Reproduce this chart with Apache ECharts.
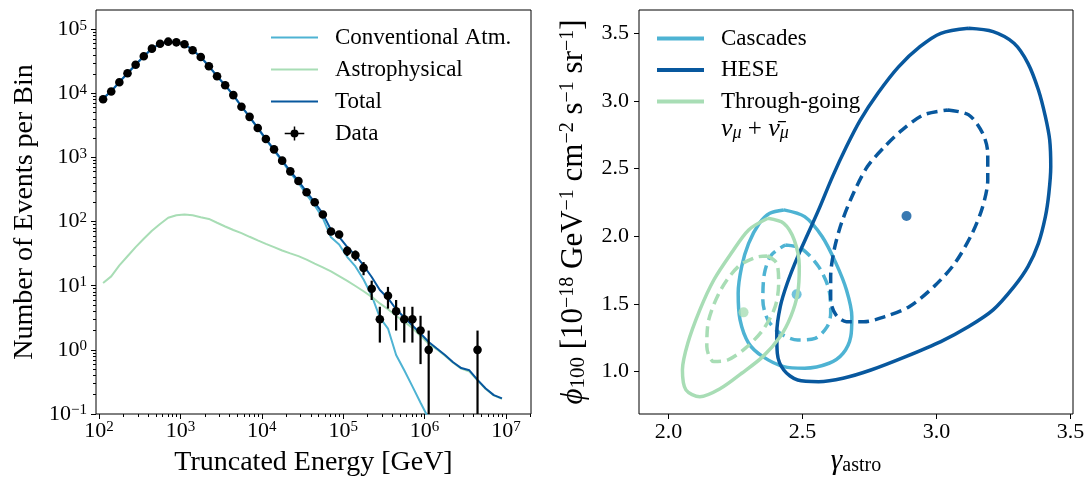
<!DOCTYPE html>
<html><head><meta charset="utf-8">
<script src="https://cdn.jsdelivr.net/npm/echarts@6/dist/echarts.min.js"></script>
<style>html,body{margin:0;padding:0;background:#fff}#c{width:1087px;height:477px}</style>
</head><body><div id="c"></div>
<script>
// ---------------- Left panel data ----------------
const logEnergyBins = [2.05,2.15,2.25,2.35,2.45,2.55,2.65,2.75,2.85,2.95,3.05,3.15,3.25,3.35,3.45,3.55,3.65,3.75,3.85,3.95,
  4.05,4.15,4.25,4.35,4.45,4.55,4.65,4.75,4.85,4.95,5.05,5.15,5.25,5.35,5.45,5.55,5.65,5.75,5.85,5.95,
  6.05,6.15,6.25,6.35,6.45,6.55,6.65,6.75,6.85,6.95];
const totalModel = [8300,10800,15000,20600,28000,38000,49500,59500,64000,63000,58500,47500,37000,26500,18600,13400,9400,6300,4300,2900,
  1950,1330,900,610,430,290,200,132,74,58,40,30,20.7,13.7,8.6,6.4,4.3,3.2,2.4,1.8,
  1.33,1.05,0.83,0.64,0.52,0.48,0.34,0.25,0.197,0.175];
const convModel = [8290,10790,14980,20570,27960,37950,49430,59410,63890,62870,58370,47370,36880,26390,18500,13320,9330,6230,4240,2850,
  1905,1290,865,578,401,264,178,113,57,44,28,20,12.5,7,3.2,2.15,0.83,0.48,0.27,0.15,
  0.085,null,null,null,null,null,null,null,null,null];
const astroModel = [11,14,20.8,28.8,40,54,72,92,115,126,129,126,117,110,96,84,74,66,58,51,
  45,40,35.5,32,29,25.6,22.2,19.3,16.7,14.1,11.9,9.9,8.2,6.7,5.3,4.3,3.4,2.75,2.2,1.65,
  1.25,1.02,0.81,0.63,0.51,0.46,0.335,0.245,0.195,0.172];
const dataLogEnergy = [2.05,2.15,2.25,2.35,2.45,2.55,2.65,2.75,2.85,2.95,3.05,3.15,3.25,3.35,3.45,3.55,3.65,3.75,3.85,3.95,
  4.05,4.15,4.25,4.35,4.45,4.55,4.65,4.75,4.85,4.95,5.05,5.15,5.25,5.35,5.45,5.55,5.65,5.75,5.85,5.95,6.05,6.65];
const dataCounts = [8100,10700,14900,20600,28000,37900,49800,59500,64000,62500,58200,47000,37000,26500,18500,13400,9400,6200,4300,2880,
  1940,1340,893,608,431,287,200,129,70,63,35,30,19,9,3,7,4,3,3,2,1,1];
const dataErrors = [90,103,122,144,167,195,223,244,253,250,241,217,192,163,136,116,97,79,66,54,
  44,37,30,25,21,17,14,11,8.4,7.9,5.9,5.5,4.4,3,1.7,2.6,2,1.7,1.7,1.4,1,1];
const energyTicks = [1e2,1e3,1e4,1e5,1e6,1e7];
const countTicks = [1e-1,1e0,1e1,1e2,1e3,1e4,1e5];

// ---------------- Right panel data ([gamma, phi]) ----------------
const cascadesOuter = [[2.43,2.195],[2.508,2.145],[2.573,1.998],[2.625,1.80],[2.664,1.603],[2.684,1.406],[2.68,1.259],[2.651,1.135],
  [2.599,1.062],[2.508,1.025],[2.43,1.037],[2.352,1.111],[2.299,1.21],[2.267,1.382],[2.26,1.579],[2.273,1.776],[2.299,1.948],
  [2.339,2.096],[2.378,2.17],[2.43,2.195]];
const cascadesInner = [[2.436,1.936],[2.495,1.911],[2.56,1.776],[2.599,1.603],[2.605,1.431],[2.592,1.333],[2.547,1.246],[2.482,1.234],
  [2.417,1.283],[2.371,1.382],[2.352,1.53],[2.358,1.727],[2.384,1.862],[2.436,1.936]];
const heseOuter = [[3.12,3.537],[3.211,3.512],[3.289,3.426],[3.341,3.278],[3.38,3.081],[3.406,2.884],[3.422,2.712],[3.426,2.515],
  [3.419,2.318],[3.406,2.145],[3.38,1.948],[3.341,1.776],[3.289,1.628],[3.211,1.456],[3.12,1.333],[3.016,1.222],[2.885,1.111],
  [2.755,1.012],[2.651,0.951],[2.56,0.926],[2.482,0.938],[2.43,1.012],[2.406,1.135],[2.404,1.283],[2.417,1.48],[2.443,1.653],
  [2.482,1.85],[2.521,2.022],[2.56,2.195],[2.612,2.441],[2.664,2.663],[2.716,2.86],[2.781,3.057],[2.859,3.254],[2.938,3.401],
  [3.016,3.5],[3.12,3.537]];
const heseInner = [[3.042,2.933],[3.12,2.897],[3.172,2.761],[3.191,2.613],[3.191,2.416],[3.172,2.219],[3.133,2.022],[3.068,1.80],
  [2.99,1.628],[2.898,1.48],[2.807,1.406],[2.729,1.369],[2.664,1.369],[2.625,1.419],[2.605,1.53],[2.605,1.702],[2.618,1.899],
  [2.645,2.096],[2.69,2.318],[2.742,2.515],[2.807,2.663],[2.872,2.786],[2.951,2.897],[3.042,2.933]];
const throughOuter = [[2.371,2.133],[2.43,2.096],[2.469,1.973],[2.488,1.776],[2.482,1.579],[2.456,1.406],[2.417,1.259],[2.352,1.111],
  [2.273,0.988],[2.195,0.877],[2.117,0.815],[2.065,0.865],[2.052,1.012],[2.072,1.209],[2.117,1.456],[2.169,1.677],[2.234,1.874],
  [2.299,2.047],[2.371,2.133]];
const throughInner = [[2.368,1.855],[2.404,1.80],[2.411,1.653],[2.398,1.48],[2.352,1.308],[2.286,1.172],[2.221,1.086],[2.169,1.074],
  [2.143,1.185],[2.15,1.382],[2.195,1.604],[2.26,1.776],[2.326,1.845],[2.368,1.855]];
const bestFits = {cascades:[2.478,1.571], hese:[2.888,2.15], through:[2.28,1.438]};
const gammaTicks = [2.0,2.5,3.0,3.5];
const phiTicks = [1.0,1.5,2.0,2.5,3.0,3.5];

// ---------------- Style ----------------
const FONT = "'Liberation Serif','DejaVu Serif',serif";
const C_CONV = '#4eb3d3', C_ASTRO = '#a8ddb5', C_TOTAL = '#08589e';
const titleRich = {
  sup:{fontSize:20, fontFamily:FONT, color:'#000', verticalAlign:'top', lineHeight:6},
  sub:{fontSize:21, fontFamily:FONT, color:'#000', verticalAlign:'bottom', lineHeight:8},
  it:{fontSize:31, fontFamily:FONT, fontStyle:'italic', color:'#000'}
};
function minorLog(lo, hi){
  const out=[];
  for(let e=-2;e<=8;e++) for(let m=2;m<=9;m++){const v=m*Math.pow(10,e); if(v>lo && v<hi) out.push(v);}
  return out;
}
const X_MIN = Math.pow(10,1.963), X_MAX = Math.pow(10,7.307);
const Y_MIN = 0.1, Y_MAX = Math.pow(10,5.30);
function logLabel(v){
  const e = Math.round(Math.log10(v));
  return '10{sup|' + (e<0 ? '\u2212'+(-e) : e) + '}';
}
const tickLabel = {fontSize:22, fontFamily:FONT, color:'#000', rich:{sup:{fontSize:15,fontFamily:FONT,color:'#000',verticalAlign:'top',lineHeight:6}}};
const thinLine = 'path://M0,0H47V2H0Z';
const thickLine = 'path://M0,0H47V4H0Z';
const dataIcon = 'path://M0,6.7h21v1.6h-21z M9.7,0h1.6v15h-1.6z M6.2,7.5a4.3,4.3 0 1,1 8.6,0a4.3,4.3 0 1,1 -8.6,0z';

function renderErr(params, api){
  const x = api.value(0), y = api.value(1), e = api.value(2);
  const c = api.coord([x,y]);
  const hi = api.coord([x, y+e]);
  const lo = api.coord([x, Math.max(y-e, 1e-6)]);
  const cs = params.coordSys;
  const loY = Math.min(lo[1], cs.y+cs.height);
  return {type:'group', children:[
    {type:'line', shape:{x1:c[0],y1:hi[1],x2:c[0],y2:loY}, style:{stroke:'#000', lineWidth:2.2}},
    {type:'circle', shape:{cx:c[0],cy:c[1],r:4.3}, style:{fill:'#000'}}
  ]};
}
const pair = (arr)=>logEnergyBins.map((l,i)=>[Math.pow(10,l), arr[i]]);

const option = {
  animation:false,
  textStyle:{fontFamily:FONT, color:'#000'},
  grid:[
    {left:96, top:10, width:435, height:404, show:true, borderColor:'#000', borderWidth:1, backgroundColor:'transparent',
     outerBoundsMode:'none', containLabel:false},
    {left:639, top:10, width:434, height:404, show:true, borderColor:'#000', borderWidth:1, backgroundColor:'transparent',
     outerBoundsMode:'none', containLabel:false}
  ],
  xAxis:[
    {gridIndex:0, type:'log', min:X_MIN, max:X_MAX, position:'bottom',
     axisLine:{show:false}, splitLine:{show:false},
     axisTick:{show:true, length:5, lineStyle:{color:'#000'}, customValues:energyTicks},
     axisLabel:{show:true, margin:6, customValues:energyTicks, formatter:logLabel, ...tickLabel},
     name:'Truncated Energy [GeV]', nameLocation:'middle', nameGap:35, nameMoveOverlap:false,
     nameTextStyle:{fontSize:28, fontFamily:FONT, color:'#000'}},
    {gridIndex:0, type:'log', min:X_MIN, max:X_MAX, position:'bottom',
     axisLine:{show:false}, splitLine:{show:false}, axisLabel:{show:false},
     axisTick:{show:true, length:3, lineStyle:{color:'#000'}, customValues:minorLog(X_MIN,X_MAX)}},
    {gridIndex:1, type:'value', min:1.89, max:3.509, position:'bottom',
     axisLine:{show:false}, splitLine:{show:false},
     axisTick:{show:true, length:5, lineStyle:{color:'#000'}, customValues:gammaTicks},
     axisLabel:{show:true, margin:7, customValues:gammaTicks, formatter:v=>v.toFixed(1), fontSize:22, fontFamily:FONT, color:'#000'},
     name:'{g|\u03b3}{s|astro}', nameLocation:'middle', nameGap:33, nameMoveOverlap:false,
     nameTextStyle:{fontSize:28, fontFamily:FONT, color:'#000', rich:{
       g:{fontSize:29, fontFamily:FONT, fontStyle:'italic', color:'#000'},
       s:{fontSize:20, fontFamily:FONT, color:'#000', verticalAlign:'bottom', lineHeight:10}}}}
  ],
  yAxis:[
    {gridIndex:0, type:'log', min:Y_MIN, max:Y_MAX, position:'left',
     axisLine:{show:false}, splitLine:{show:false},
     axisTick:{show:true, length:5, lineStyle:{color:'#000'}, customValues:countTicks},
     axisLabel:{show:true, margin:9, customValues:countTicks, formatter:logLabel, ...tickLabel},
     name:'Number of Events per Bin', nameLocation:'middle', nameGap:57, nameMoveOverlap:false,
     nameTextStyle:{fontSize:28, fontFamily:FONT, color:'#000'}},
    {gridIndex:0, type:'log', min:Y_MIN, max:Y_MAX, position:'left',
     axisLine:{show:false}, splitLine:{show:false}, axisLabel:{show:false},
     axisTick:{show:true, length:3, lineStyle:{color:'#000'}, customValues:minorLog(Y_MIN,Y_MAX)}},
    {gridIndex:1, type:'value', min:0.687, max:3.672, position:'left',
     axisLine:{show:false}, splitLine:{show:false},
     axisTick:{show:true, length:5, lineStyle:{color:'#000'}, customValues:phiTicks},
     axisLabel:{show:true, margin:10, customValues:phiTicks, formatter:v=>v.toFixed(1), fontSize:22, fontFamily:FONT, color:'#000'},
     name:'{it|\u03d5}{sub|100} [10{sup|\u221218} GeV{sup|\u22121} cm{sup|\u22122} s{sup|\u22121} sr{sup|\u22121}]',
     nameLocation:'middle', nameGap:50, nameMoveOverlap:false,
     nameTextStyle:{fontSize:31, fontFamily:FONT, color:'#000', rich:titleRich}}
  ],
  legend:[
    {orient:'vertical', left:271, top:26, padding:0, itemWidth:47, itemHeight:14, itemGap:9,
     textStyle:{fontSize:23, fontFamily:FONT, color:'#000', padding:[0,0,0,12]},
     data:[{name:'Conventional Atm.', icon:thinLine},{name:'Astrophysical', icon:thinLine},{name:'Total', icon:thinLine},
       {name:'Data', icon:dataIcon}]},
    {orient:'vertical', left:657, top:27, padding:0, itemWidth:47, itemHeight:14, itemGap:8.5,
     textStyle:{fontSize:23, fontFamily:FONT, color:'#000', padding:[0,0,0,12]},
     data:[{name:'Cascades', icon:thickLine},{name:'HESE', icon:thickLine},{name:'Through-going', icon:thickLine}]}
  ],
  graphic:[
    {type:'text', left:721, top:116, style:{
      text:'{i|\u03bd}{s|\u03bc} + {i|\u03bd\u0304}{s|\u03bc}', fontSize:25, fontFamily:FONT, fill:'#000',
      rich:{i:{fontSize:26, fontFamily:FONT, fontStyle:'italic', color:'#000'},
            s:{fontSize:18, fontFamily:FONT, fontStyle:'italic', color:'#000', verticalAlign:'bottom', lineHeight:6}}}}
  ],
  series:[
    {name:'Conventional Atm.', type:'line', xAxisIndex:0, yAxisIndex:0, data:pair(convModel), symbol:'none', clip:true,
     lineStyle:{color:C_CONV, width:2}, itemStyle:{color:C_CONV}, z:2},
    {name:'Astrophysical', type:'line', xAxisIndex:0, yAxisIndex:0, data:pair(astroModel), symbol:'none', clip:true,
     lineStyle:{color:C_ASTRO, width:2}, itemStyle:{color:C_ASTRO}, z:3},
    {name:'Total', type:'line', xAxisIndex:0, yAxisIndex:0, data:pair(totalModel), symbol:'none', clip:true,
     lineStyle:{color:C_TOTAL, width:2}, itemStyle:{color:C_TOTAL}, z:4},
    {name:'Data', type:'custom', xAxisIndex:0, yAxisIndex:0, clip:true, renderItem:renderErr,
     encode:{x:0, y:1}, itemStyle:{color:'#000'}, z:5,
     data:dataLogEnergy.map((l,i)=>[Math.pow(10,l), dataCounts[i], dataErrors[i]])},

    {name:'Cascades', type:'line', xAxisIndex:2, yAxisIndex:2, data:cascadesOuter, symbol:'none', smooth:0.3,
     lineStyle:{color:C_CONV, width:3.5}, itemStyle:{color:C_CONV}, z:2},
    {name:'Cascades inner', type:'line', xAxisIndex:2, yAxisIndex:2, data:cascadesInner, symbol:'none', smooth:0.3,
     lineStyle:{color:C_CONV, width:3.5, type:[11,6]}, itemStyle:{color:C_CONV}, z:2},
    {name:'Cascades best fit', type:'scatter', xAxisIndex:2, yAxisIndex:2, data:[bestFits.cascades], symbolSize:10,
     itemStyle:{color:C_CONV}, z:2},
    {name:'HESE', type:'line', xAxisIndex:2, yAxisIndex:2, data:heseOuter, symbol:'none', smooth:0.3,
     lineStyle:{color:C_TOTAL, width:3.5}, itemStyle:{color:C_TOTAL}, z:3},
    {name:'HESE inner', type:'line', xAxisIndex:2, yAxisIndex:2, data:heseInner, symbol:'none', smooth:0.3,
     lineStyle:{color:C_TOTAL, width:3.5, type:[11,6]}, itemStyle:{color:C_TOTAL}, z:3},
    {name:'HESE best fit', type:'scatter', xAxisIndex:2, yAxisIndex:2, data:[bestFits.hese], symbolSize:10,
     itemStyle:{color:C_TOTAL}, z:3},
    {name:'Through-going', type:'line', xAxisIndex:2, yAxisIndex:2, data:throughOuter, symbol:'none', smooth:0.3,
     lineStyle:{color:C_ASTRO, width:3.5}, itemStyle:{color:C_ASTRO}, z:4},
    {name:'Through-going inner', type:'line', xAxisIndex:2, yAxisIndex:2, data:throughInner, symbol:'none', smooth:0.3,
     lineStyle:{color:C_ASTRO, width:3.5, type:[11,6]}, itemStyle:{color:C_ASTRO}, z:4},
    {name:'Through-going best fit', type:'scatter', xAxisIndex:2, yAxisIndex:2, data:[bestFits.through], symbolSize:10,
     itemStyle:{color:C_ASTRO}, z:4}
  ]
};
const chart = echarts.init(document.getElementById('c'), null, {renderer:'canvas'});
chart.setOption(option);
</script>
</body></html>
